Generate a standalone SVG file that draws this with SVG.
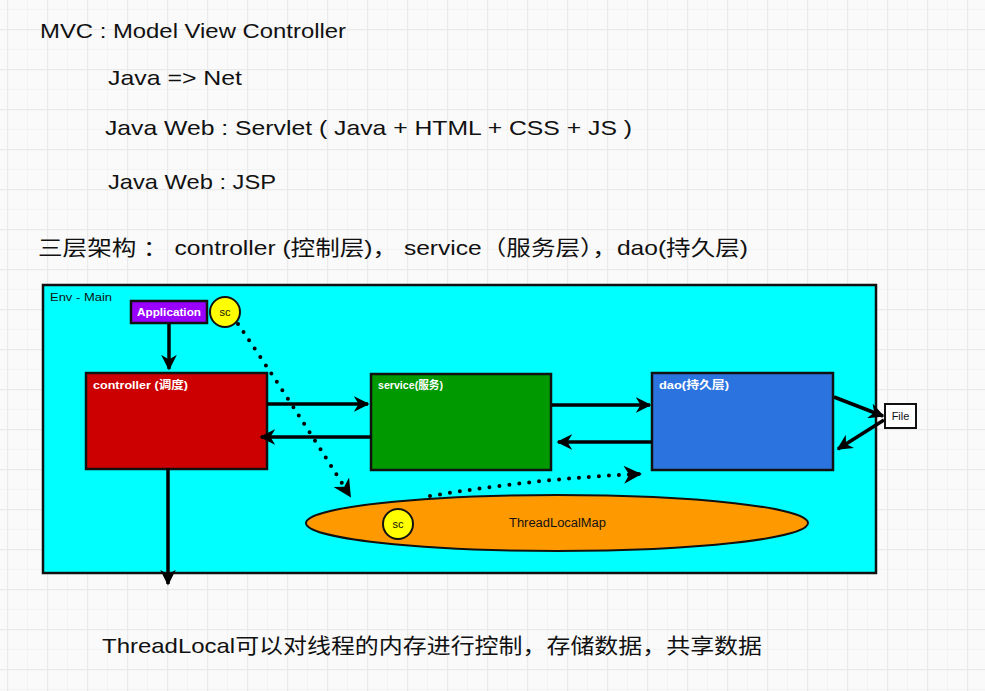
<svg xmlns="http://www.w3.org/2000/svg" width="985" height="691" viewBox="0 0 985 691">
<defs>
<pattern id="minor" x="7" y="9" width="20" height="20" patternUnits="userSpaceOnUse">
<path d="M0 0H20M0 0V20" stroke="#f1f1f1" stroke-width="1.5" fill="none"/>
</pattern>
<pattern id="major" x="7" y="29" width="40" height="40" patternUnits="userSpaceOnUse">
<path d="M0 0H40M0 0V40" stroke="#eaeaea" stroke-width="2.5" fill="none"/>
</pattern>
<marker id="ah" viewBox="0 0 10 10" refX="9" refY="5" markerWidth="4.5" markerHeight="4.5" orient="auto" markerUnits="strokeWidth">
<path d="M0 0L10 5L0 10L3 5Z" fill="#000"/>
</marker>
<marker id="ahd" viewBox="0 0 10 10" refX="9" refY="5" markerWidth="4.5" markerHeight="4.5" orient="auto" markerUnits="strokeWidth">
<path d="M0 0L10 5L0 10L3 5Z" fill="#000"/>
</marker>
</defs>
<style>
.t{font-family:"Liberation Sans","Noto Sans CJK SC",sans-serif;fill:#111}
.h{font-size:21px}
.lbl{font-family:"Liberation Sans","Noto Sans CJK SC",sans-serif;font-size:11.5px;font-weight:bold;fill:#fff}
.box{stroke:#111;stroke-width:2.5}
.con{stroke:#000;stroke-width:3.5;fill:none;marker-end:url(#ah)}
.dot{stroke:#000;stroke-width:4;fill:none;stroke-linecap:round;stroke-dasharray:0 10;marker-end:url(#ahd)}
</style>
<rect width="985" height="691" fill="#fafafa"/>
<rect width="985" height="691" fill="url(#minor)"/>
<rect width="985" height="691" fill="url(#major)"/>

<g id="texts">
<text class="t h" x="40" y="38" textLength="306" lengthAdjust="spacingAndGlyphs">MVC : Model View Controller</text>
<text class="t h" x="108" y="85" textLength="134" lengthAdjust="spacingAndGlyphs">Java =&gt; Net</text>
<text class="t h" x="105" y="135" textLength="527" lengthAdjust="spacingAndGlyphs">Java Web : Servlet ( Java + HTML + CSS + JS )</text>
<text class="t h" x="108" y="189" textLength="168" lengthAdjust="spacingAndGlyphs">Java Web : JSP</text>
<text class="t h" x="38" y="255" textLength="710" lengthAdjust="spacingAndGlyphs">三层架构 ： controller (控制层)， service（服务层），dao(持久层)</text>
<text class="t h" x="102" y="653" textLength="660" lengthAdjust="spacingAndGlyphs">ThreadLocal可以对线程的内存进行控制，存储数据，共享数据</text>
</g>

<g id="env">
<rect class="box" x="43" y="285" width="833" height="288" fill="#00ffff"/>
<text class="t" x="50" y="301" font-size="11.5" textLength="62" lengthAdjust="spacingAndGlyphs">Env - Main</text>
</g>

<g id="threadlocalmap">
<ellipse cx="557" cy="523" rx="251" ry="28" fill="#ff9900" stroke="#111" stroke-width="2"/>
<text class="t" x="509" y="527" font-size="12" textLength="97" lengthAdjust="spacingAndGlyphs">ThreadLocalMap</text>
</g>

<g id="sc2">
<circle cx="398" cy="524" r="15" fill="#ffff00" stroke="#111" stroke-width="2"/>
<text class="t" x="398" y="528" font-size="11" text-anchor="middle">sc</text>
</g>

<g id="application">
<rect class="box" x="131" y="301" width="76" height="22" fill="#9900ff" stroke-width="2"/>
<text class="lbl" x="137" y="316" textLength="64" lengthAdjust="spacingAndGlyphs">Application</text>
</g>

<g id="sc1">
<circle cx="225" cy="312" r="15" fill="#ffff00" stroke="#111" stroke-width="2"/>
<text class="t" x="225" y="316" font-size="11" text-anchor="middle">sc</text>
</g>

<g id="controller">
<rect class="box" x="86" y="373" width="181" height="96" fill="#cc0000"/>
<text class="lbl" x="93" y="389" textLength="95" lengthAdjust="spacingAndGlyphs">controller (调度)</text>
</g>

<g id="service">
<rect class="box" x="371" y="374" width="180" height="96" fill="#009900"/>
<text class="lbl" x="378" y="389" textLength="65" lengthAdjust="spacingAndGlyphs">service(服务)</text>
</g>

<g id="dao">
<rect class="box" x="652" y="373" width="181" height="97" fill="#2b74e0"/>
<text class="lbl" x="659" y="389" textLength="70" lengthAdjust="spacingAndGlyphs">dao(持久层)</text>
</g>

<g id="file">
<rect x="885" y="404" width="31" height="24" fill="#fff" stroke="#111" stroke-width="2"/>
<text class="t" x="900.5" y="420" font-size="11" text-anchor="middle">File</text>
</g>

<g id="connectors">
<path class="con" d="M169 324V369"/>
<path class="con" d="M267 404H368"/>
<path class="con" d="M371 437H261"/>
<path class="con" d="M552 405H650"/>
<path class="con" d="M652 442H558"/>
<path class="con" d="M834 397L883 416"/>
<path class="con" d="M884 420L838 449"/>
<path class="con" d="M168 468V584"/>
<path class="dot" d="M238 324Q290 400 350 496"/>
<path class="dot" d="M430 496Q540 478 640 474"/>
</g>
</svg>
